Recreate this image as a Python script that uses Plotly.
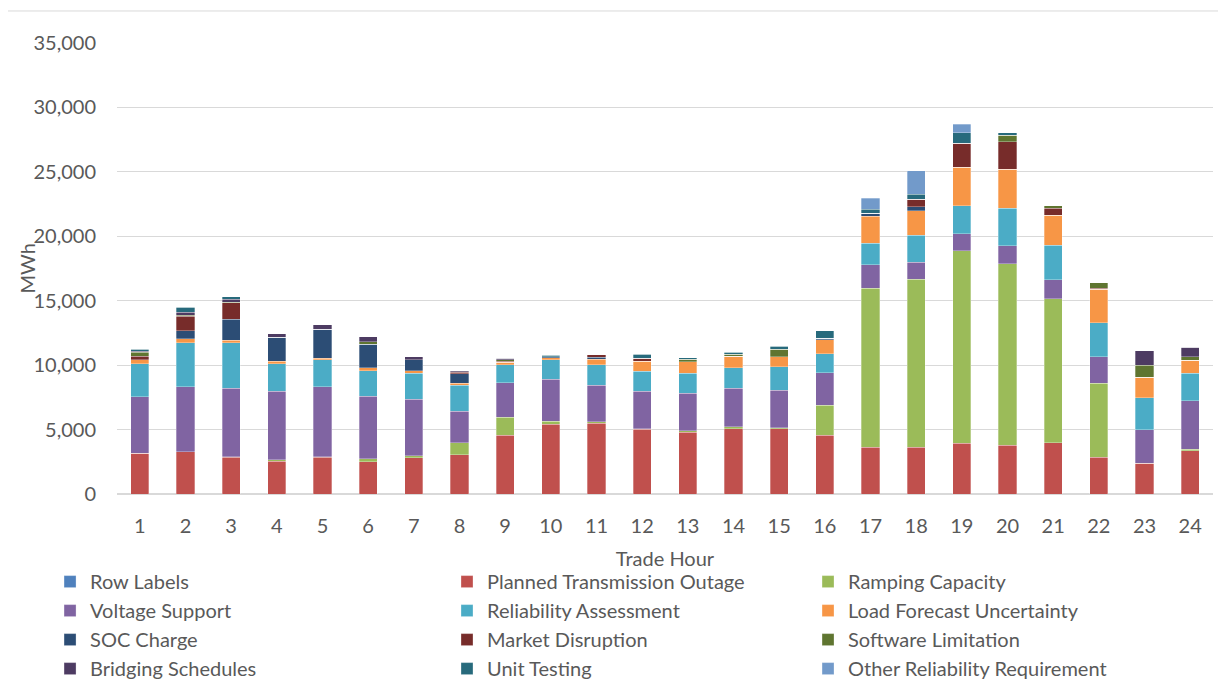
import plotly.graph_objects as go

hours = [str(h) for h in range(1, 25)]

row_labels = [None] * 24
planned_transmission_outage = [3160, 3260, 2850, 2560, 2850, 2510, 2820, 3030, 4550, 5430, 5490, 5020,
                               4790, 5070, 5070, 4550, 3620, 3620, 3930, 3780, 3980, 2870, 2380, 3340]
ramping_capacity = [0, 0, 60, 80, 50, 230, 130, 950, 1400, 210, 100, 50,
                    120, 150, 70, 2330, 12340, 13060, 14950, 14090, 11180, 5740, 0, 150]
voltage_support = [4370, 5070, 5290, 5330, 5430, 4860, 4420, 2460, 2690, 3280, 2840, 2900,
                   2900, 2980, 2910, 2530, 1840, 1320, 1300, 1400, 1450, 2040, 2610, 3750]
reliability_assessment = [2560, 3410, 3540, 2120, 2070, 1970, 2000, 1990, 1400, 1480, 1610, 1550,
                          1560, 1600, 1810, 1480, 1650, 2070, 2190, 2900, 2690, 2640, 2480, 2130]
load_forecast_uncertainty = [330, 290, 210, 210, 130, 210, 200, 160, 180, 180, 410, 780,
                             900, 880, 790, 1090, 2120, 1910, 2980, 3030, 2320, 2590, 1590, 1010]
soc_charge = [0, 640, 1610, 1880, 2250, 1860, 830, 740, 0, 80, 160, 0,
              0, 0, 0, 100, 210, 330, 0, 0, 0, 0, 0, 0]
market_disruption = [260, 1140, 1290, 0, 0, 0, 0, 120, 100, 0, 200, 250,
                     0, 0, 0, 0, 0, 580, 1860, 2140, 550, 80, 0, 0]
software_limitation = [320, 80, 50, 0, 0, 180, 0, 40, 80, 0, 0, 0,
                       180, 160, 600, 0, 0, 0, 0, 500, 200, 440, 950, 270]
bridging_schedules = [80, 230, 210, 260, 360, 390, 250, 80, 130, 0, 0, 0,
                      0, 0, 0, 0, 0, 0, 0, 0, 0, 0, 1110, 730]
unit_testing = [170, 370, 200, 0, 0, 0, 0, 0, 0, 100, 0, 290,
                130, 180, 230, 580, 310, 380, 830, 200, 0, 0, 0, 0]
other_reliability_requirement = [0, 0, 0, 0, 0, 0, 0, 0, 0, 0, 0, 0,
                                 0, 0, 0, 0, 860, 1810, 670, 0, 0, 0, 0, 0]

# (name, values, colour, legend column)
series = [
    ("Row Labels", row_labels, "#4F81BD", "legend"),
    ("Planned Transmission Outage", planned_transmission_outage, "#C0504D", "legend2"),
    ("Ramping Capacity", ramping_capacity, "#9BBB59", "legend3"),
    ("Voltage Support", voltage_support, "#8064A2", "legend"),
    ("Reliability Assessment", reliability_assessment, "#4BACC6", "legend2"),
    ("Load Forecast Uncertainty", load_forecast_uncertainty, "#F79646", "legend3"),
    ("SOC Charge", soc_charge, "#2C4D75", "legend"),
    ("Market Disruption", market_disruption, "#772C2A", "legend2"),
    ("Software Limitation", software_limitation, "#5F7530", "legend3"),
    ("Bridging Schedules", bridging_schedules, "#4D3B62", "legend"),
    ("Unit Testing", unit_testing, "#276A7C", "legend2"),
    ("Other Reliability Requirement", other_reliability_requirement, "#729ACA", "legend3"),
]

FONT = "Lato"
TXT = "#595959"
FS = 20

fig = go.Figure()
for name, vals, color, leg in series:
    fig.add_trace(go.Bar(
        x=hours, y=vals, name=name, legend=leg,
        marker=dict(color=color, line=dict(color="rgba(255,255,255,0.6)", width=0.5)),
    ))

legend_common = dict(orientation="v", yanchor="top", y=-0.151, xanchor="left",
                     traceorder="normal", font=dict(size=FS, color=TXT),
                     itemwidth=30, tracegroupgap=0, bgcolor="rgba(0,0,0,0)")

fig.update_layout(
    width=1218, height=678,
    barmode="stack", bargap=0.6,
    paper_bgcolor="white", plot_bgcolor="white",
    margin=dict(l=109, r=13, t=35, b=192, autoexpand=False),
    font=dict(family=FONT, color=TXT, size=FS),
    xaxis=dict(
        type="category", showgrid=False, ticks="", showline=True,
        linecolor="#D9D9D9", linewidth=1,
        ticklabelstandoff=14,
        tickfont=dict(size=FS, color=TXT),
        title=dict(text="Trade Hour", font=dict(size=FS, color=TXT), standoff=15),
    ),
    yaxis=dict(
        range=[0, 35000], dtick=5000, tickformat=",",
        showgrid=True, gridcolor="#D9D9D9", gridwidth=1,
        zeroline=True, zerolinecolor="#D9D9D9",
        ticks="", ticklabelstandoff=20,
        tickfont=dict(size=FS, color=TXT),
    ),
    legend=dict(x=-0.0611, **legend_common),
    legend2=dict(x=0.3011, **legend_common),
    legend3=dict(x=0.6305, **legend_common),
    annotations=[dict(text="MWh", textangle=-90, xref="paper", yref="paper",
                      x=-0.083, y=0.5, xanchor="center", yanchor="middle",
                      showarrow=False, font=dict(size=FS, color=TXT))],
    shapes=[dict(type="rect", xref="paper", yref="paper",
                 x0=-0.1004, x1=1.0073, y0=-0.45, y1=1.071,
                 line=dict(color="#D9D9D9", width=1), layer="below")],
)

fig.write_html("out.html")
